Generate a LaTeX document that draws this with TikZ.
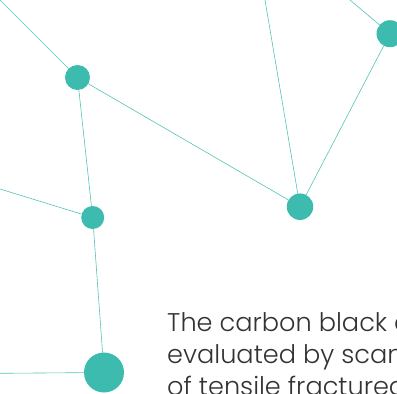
\documentclass[tikz,border=0pt]{standalone}
\usepackage{fontspec}
\setmainfont{Poppins}[UprightFont={* Light}]
\usepackage{tkz-graph}
\definecolor{nodeteal}{HTML}{3DBBAE}
\definecolor{lineteal}{HTML}{52C4B6}

\begin{document}
\begin{tikzpicture}[x=1pt,y=-1pt]
\useasboundingbox (0,0) rectangle (397,394);
\clip (0,0) rectangle (397,394);
\tikzset{VertexStyle/.style =
	{shape = circle,
		fill = nodeteal,
		draw = none,
		inner sep = 0pt,
		minimum size = 25pt},
	TextStyle/.style = {anchor=base west, inner sep=0pt, text=black!80,
		font=\fontsize{25.6}{32}\selectfont}}
%\GraphInit[vstyle=Shade]

\Vertex[x=77.5,y=77.5,NoLabel]{A}
{\tikzset{VertexStyle/.append style={minimum size=23pt}}
\Vertex[x=92.7,y=217.5,NoLabel]{B}}
{\tikzset{VertexStyle/.append style={minimum size=26.5pt}}
\Vertex[x=300,y=206.7,NoLabel]{C}}
{\tikzset{VertexStyle/.append style={minimum size=27pt}}
\Vertex[x=390,y=33.7,NoLabel]{D}}
{\tikzset{VertexStyle/.append style={minimum size=40pt}}
\Vertex[x=104,y=372.5,NoLabel]{E}}
% free ends at the border
\coordinate (tlA) at (-1,-1);
\coordinate (lB) at (0,189);
\coordinate (lE) at (0,373.3);
\coordinate (tC) at (265,0);
\coordinate (tD) at (350,0);

\tikzset{EdgeStyle/.style={draw=lineteal, line width=0.6pt}}
\Edges(tlA,A,C,D,tD)
\Edges(A,B,E,lE)
\Edges(lB,B)
\Edges(tC,C)

\node[TextStyle] (t1) at (167,331.7) {The carbon black dispersion};
\node[TextStyle] (t2) at (167,363.7) {evaluated by scanning};
\node[TextStyle] (t3) at (167,395.7) {of tensile fractured};
\end{tikzpicture}
\end{document}
